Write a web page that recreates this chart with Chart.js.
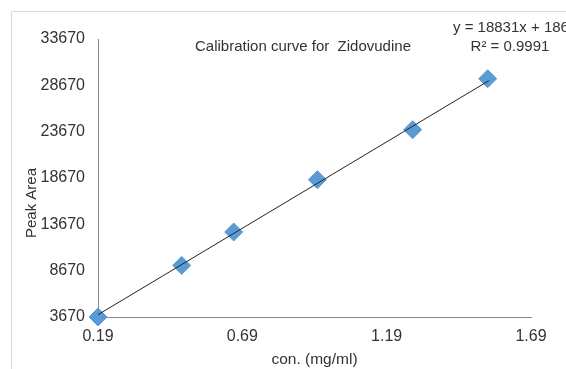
<!DOCTYPE html>
<html>
<head>
<meta charset="utf-8">
<script src="https://cdn.jsdelivr.net/npm/chart.js@4.4.0/dist/chart.umd.min.js"></script>
<style>
  html, body { margin: 0; padding: 0; background: #fff; }
  #wrap { position: relative; width: 566px; height: 369px; }
</style>
</head>
<body>
<div id="wrap"><canvas id="calChart" width="566" height="369"></canvas></div>
<script>
// concentration (mg/ml) and peak area
const concValues = [0.19, 0.48, 0.66, 0.95, 1.28, 1.54];
const peakAreas = [3670, 9240, 12840, 18490, 23880, 29380];

// trendline ends as drawn in the picture
const trendX = [0.19, 1.544];
const trendY = [3920, 29170];

const xTicks = [0.19, 0.69, 1.19, 1.69];
const yTicks = [3670, 8670, 13670, 18670, 23670, 28670, 33670];

const chartTitle = 'Calibration curve for  Zidovudine';
const eqLine = 'y = 18831x + 1860';
const r2Line = 'R² = 0.9991';
const yTitle = 'Peak Area';

const FONT = "'Liberation Sans', Arial, sans-serif";
const TEXT = '#333333';
const AXIS = '#868686';

// frame, titles and trendline label (Excel puts them off-centre, so drawn by hand)
const decorations = {
    id: 'decorations',
    beforeDraw(chart) {
        const ctx = chart.ctx;
        ctx.save();
        ctx.strokeStyle = '#d9d9d9';
        ctx.lineWidth = 1;
        ctx.beginPath();
        ctx.moveTo(11.5, 369);
        ctx.lineTo(11.5, 11.5);
        ctx.lineTo(566, 11.5);
        ctx.stroke();
        ctx.restore();
    },
    afterDraw(chart) {
        const ctx = chart.ctx;
        ctx.save();
        ctx.fillStyle = TEXT;
        ctx.textBaseline = 'middle';
        ctx.font = '15px ' + FONT;
        ctx.textAlign = 'center';
        ctx.fillText(chartTitle, 303, 47);
        ctx.textAlign = 'left';
        ctx.fillText(eqLine, 453, 28);
        ctx.textAlign = 'center';
        ctx.fillText(r2Line, 510, 47);

        ctx.translate(32, 203);
        ctx.rotate(-Math.PI / 2);
        ctx.fillText(yTitle, 0, 0);
        ctx.restore();
    }
};

new Chart(document.getElementById('calChart'), {
    type: 'scatter',
    data: {
        datasets: [{
            label: 'Peak Area',
            data: concValues.map((x, i) => ({ x: x, y: peakAreas[i] })),
            pointStyle: 'rectRot',
            pointRadius: 9,
            pointBackgroundColor: '#5b9bd5',
            pointBorderColor: '#5b9bd5',
            pointBorderWidth: 1,
            clip: false,
            order: 2
        }, {
            label: 'Linear',
            type: 'line',
            data: trendX.map((x, i) => ({ x: x, y: trendY[i] })),
            borderColor: '#222222',
            borderWidth: 1,
            pointRadius: 0,
            fill: false,
            order: 1
        }]
    },
    options: {
        responsive: false,
        animation: false,
        layout: { padding: { left: 24, right: 35, top: 39, bottom: 0 } },
        plugins: {
            legend: { display: false },
            tooltip: { enabled: false }
        },
        scales: {
            x: {
                type: 'linear',
                min: 0.19,
                max: 1.69,
                afterBuildTicks: s => { s.ticks = xTicks.map(v => ({ value: v })); },
                afterFit: s => { s.height = 52; },
                grid: { display: false, drawOnChartArea: false, drawTicks: true, tickLength: 5, tickColor: AXIS },
                border: { color: AXIS },
                ticks: {
                    color: TEXT,
                    font: { family: FONT, size: 16 },
                    padding: 5,
                    maxRotation: 0,
                    callback: v => v.toFixed(2)
                },
                title: {
                    display: true,
                    text: 'con. (mg/ml)',
                    color: TEXT,
                    font: { family: FONT, size: 15.5 },
                    padding: { top: 0, bottom: 0 }
                }
            },
            y: {
                type: 'linear',
                min: 3670,
                max: 33670,
                afterBuildTicks: s => { s.ticks = yTicks.map(v => ({ value: v })); },
                afterFit: s => { s.width = 74; },
                grid: { display: false, drawOnChartArea: false, drawTicks: true, tickLength: 5, tickColor: AXIS },
                border: { color: AXIS },
                ticks: {
                    color: TEXT,
                    font: { family: FONT, size: 16 },
                    padding: 8,
                    callback: v => String(v)
                },
                title: { display: false }
            }
        }
    },
    plugins: [decorations]
});
</script>
</body>
</html>
